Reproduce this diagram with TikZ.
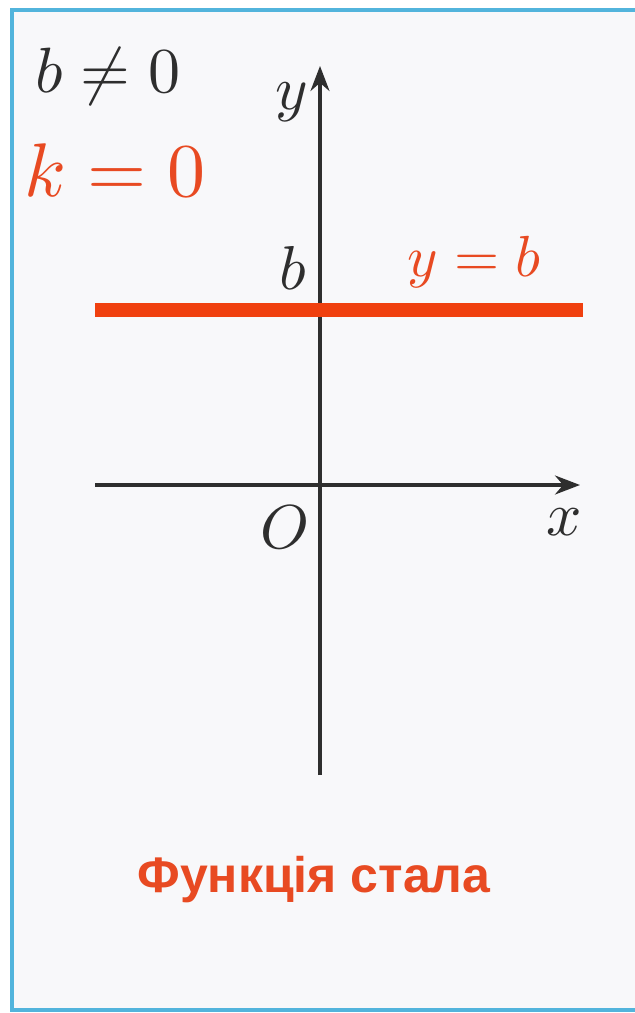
\documentclass[tikz,border=0pt]{standalone}
\usepackage{fontspec}
\newfontfamily\capfont{Liberation Sans}
\usepackage{tikz}
\usetikzlibrary{positioning,arrows.meta}
\definecolor{cardbg}{HTML}{F8F8FA}
\definecolor{cardedge}{HTML}{52B4DC}
\definecolor{constred}{HTML}{F0400F}
\definecolor{labred}{HTML}{E84A22}
\definecolor{axisgray}{HTML}{2E2E2E}

\begin{document}
\begin{tikzpicture}[x=1pt,y=-1pt,>={Stealth[length=25pt,width=19pt]},
  axis/.style={draw=axisgray,line width=3.2pt},
  lab/.style={text=axisgray,inner sep=0pt,scale=6.2}]
  \useasboundingbox (0,0) rectangle (635,1013);
  \fill[white] (0,0) rectangle (635,1013);
  \fill[cardbg] (12,10) rectangle (640,1010);
  \draw[cardedge,line width=4pt] (640,10) -- (12,10) -- (12,1010) -- (640,1010);
  % axes
  \coordinate (xl) at (95,485);
  \coordinate (xr) at (580,485);
  \coordinate (yb) at (320,775);
  \coordinate (yt) at (320,66);
  \draw[axis,->] (xl) -- (xr);
  \draw[axis,->] (yb) -- (yt);
  % graph y=b
  \coordinate (bl) at (95,310);
  \coordinate (br) at (583,310);
  \draw[constred,line width=14pt] (bl) -- (br);
  % labels
  \node[lab,scale=6.4/6.2] (bne) at (108,76) {$b\neq0$};
  \node[lab,text=labred,scale=7.6/6.2] (kzero) at (115,170) {$k=0$};
  \node[lab] (ylab) at (292,102) {$y$};
  \node[lab] (blab) at (293,268) {$b$};
  \node[lab,text=labred,scale=5.8/6.2] (eq) at (474,262) {$y=b$};
  \node[lab] (olab) at (285,527) {$O$};
  \node[lab] (xlab) at (564,522) {$x$};
  \node[text=labred,inner sep=0pt,font=\capfont\bfseries\fontsize{50}{50}\selectfont] (cap) at (314,880) {Функція стала};
\end{tikzpicture}
\end{document}
